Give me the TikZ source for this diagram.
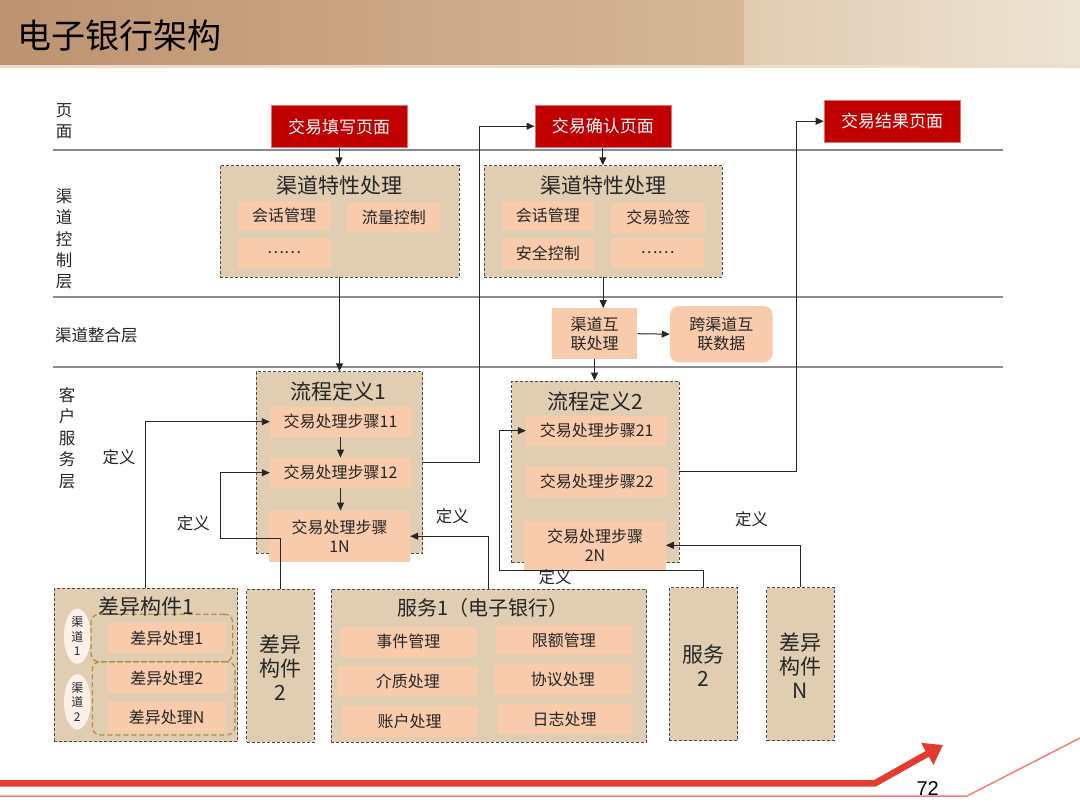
\documentclass[tikz,border=0pt]{standalone}
\usepackage{fontspec}
\setmainfont{Noto Sans CJK SC}
\newfontfamily\numfont{Liberation Sans}
\usetikzlibrary{arrows.meta,shapes.geometric}
\definecolor{pagered}{HTML}{C00000}
\definecolor{grptan}{HTML}{E0CDB2}
\definecolor{itemsal}{HTML}{F8CBAD}
\definecolor{linegray}{HTML}{8C8C8C}
\definecolor{dashgold}{HTML}{A8903C}
\definecolor{redthick}{HTML}{E53A30}
\definecolor{redthin}{HTML}{F2806E}
\definecolor{txt}{HTML}{262626}
\definecolor{chanfill}{HTML}{FBF1E8}
\definecolor{hdA}{RGB}{189,147,112}
\definecolor{hdB}{RGB}{214,184,153}
\definecolor{hdC}{RGB}{224,204,176}
\definecolor{hdD}{RGB}{238,228,213}
\definecolor{hdstrip}{RGB}{236,220,202}
\tikzset{
 grp/.style={fill=grptan, draw=black!70, densely dashed, line width=0.8pt, inner sep=0pt},
 itm/.style={fill=itemsal, inner sep=0pt, text=txt, font=\fontsize{16}{19}\selectfont, align=center},
 pg/.style={fill=pagered, draw=pagered!55!white, line width=0.6pt, text=white, inner sep=0pt, font=\fontsize{17}{20}\selectfont},
 ttl/.style={text=txt, inner sep=0pt, font=\fontsize{21}{24}\selectfont, align=center},
 lbl/.style={text=txt, inner sep=0pt, font=\fontsize{16.5}{20}\selectfont},
 side/.style={text=txt, inner sep=0pt, font=\fontsize{16.5}{21.4}\selectfont, align=center},
 conn/.style={draw=txt, line width=1pt, -{Triangle[length=8pt,width=7pt]}},
 chan/.style={ellipse, fill=chanfill, inner sep=0pt, text=txt, font=\fontsize{12}{14.5}\selectfont, align=center},
 grpdash/.style={draw=dashgold, dash pattern=on 5pt off 3pt, line width=1.2pt, rounded corners=8pt, inner sep=0pt},
 layer/.style={draw=linegray, line width=1.6pt},
}
\begin{document}
\begin{tikzpicture}[x=1pt,y=-1pt]
\useasboundingbox (0,0) rectangle (1080,809);
\fill[white] (0,0) rectangle (1080,809);
% header
\shade[left color=hdA, right color=hdB] (0,0) rectangle (744,65);
\shade[left color=hdC, right color=hdD] (744,0) rectangle (1080,65);
\fill[hdstrip] (0,65) rectangle (1080,68);
\node[anchor=west, inner sep=0pt, text=black, font=\fontsize{34}{38}\selectfont] (title) at (17,36) {电子银行架构};

% layer lines
\coordinate (l1a) at (53,150); \coordinate (l1b) at (1003,150);
\coordinate (l2a) at (53,297); \coordinate (l2b) at (1003,297);
\coordinate (l3a) at (53,367); \coordinate (l3b) at (1003,367);
\draw[layer] (l1a) -- (l1b);
\draw[layer] (l2a) -- (l2b);
\draw[layer] (l3a) -- (l3b);

% side labels
\node[side] (sl1) at (64,121) {页\\面};
\node[side] (sl2) at (64,239) {渠\\道\\控\\制\\层};
\node[side, anchor=west] (sl3) at (55,335) {渠道整合层};
\node[side] (sl4) at (67,438) {客\\户\\服\\务\\层};

% page boxes
\node[pg, minimum width=136, minimum height=42] (p1) at (339,126.7) {交易填写页面};
\node[pg, minimum width=136, minimum height=42] (p2) at (602.8,126.2) {交易确认页面};
\node[pg, minimum width=136, minimum height=42] (p3) at (892,121.2) {交易结果页面};

% channel control
\node[grp, minimum width=239, minimum height=111.3] (cq1) at (339.5,221.3) {};
\node[ttl] (cq1t) at (339,185) {渠道特性处理};
\node[itm, minimum width=93, minimum height=29] (a1) at (284,215.5) {会话管理};
\node[itm, minimum width=93, minimum height=29.6] (a2) at (393.8,217.5) {流量控制};
\node[itm, minimum width=93, minimum height=29.4] (a3) at (284,253) {……};

\node[grp, minimum width=238.4, minimum height=111.3] (cq2) at (603.2,221.3) {};
\node[ttl] (cq2t) at (603.4,185) {渠道特性处理};
\node[itm, minimum width=92.6, minimum height=29.3] (b1) at (547.9,215.7) {会话管理};
\node[itm, minimum width=93.8, minimum height=30] (b2) at (658.3,217.7) {交易验签};
\node[itm, minimum width=92.6, minimum height=30.7] (b3) at (547.9,253.7) {安全控制};
\node[itm, minimum width=93.8, minimum height=29.7] (b4) at (657.5,253) {……};

% integration
\node[itm, minimum width=85.6, minimum height=50.7] (hl) at (594.5,333.7) {渠道互\\联处理};
\node[itm, rounded corners=9pt, minimum width=102.7, minimum height=56.3] (kq) at (721.3,334.2) {跨渠道互\\联数据};

% process definition 1
\node[grp, minimum width=166.7, minimum height=181.6] (pd1) at (339.3,462.5) {};
\node[ttl] (pd1t) at (338.5,391) {流程定义1};
\node[itm, minimum width=141, minimum height=30] (s11) at (340.5,421.7) {交易处理步骤11};
\node[itm, minimum width=141, minimum height=30] (s12) at (340.5,472.7) {交易处理步骤12};
\node[itm, minimum width=141, minimum height=51] (s1N) at (339.5,536.2) {交易处理步骤\\1N};

% process definition 2
\node[grp, minimum width=167.3, minimum height=181.7] (pd2) at (595.3,471.8) {};
\node[ttl] (pd2t) at (595,401) {流程定义2};
\node[itm, minimum width=141.3, minimum height=30] (s21) at (596.7,430.7) {交易处理步骤21};
\node[itm, minimum width=141.3, minimum height=30] (s22) at (596.7,481.7) {交易处理步骤22};
\node[itm, minimum width=141.3, minimum height=49.3] (s2N) at (595,545.3) {交易处理步骤\\2N};

% bottom: diff component 1
\node[grp, minimum width=183.7, minimum height=153.3] (cy1) at (145.8,665) {};
\node[chan, minimum width=26.7, minimum height=51] (ch1) at (77.3,636.2) {渠\\道\\1};
\node[chan, minimum width=26.7, minimum height=55] (ch2) at (77.3,701.8) {渠\\道\\2};
\node[grpdash, minimum width=141.7, minimum height=47.4] (da) at (161.8,638) {};
\node[grpdash, minimum width=142.7, minimum height=73.3] (db) at (163.7,698.3) {};
\node[ttl] (cy1t) at (146,606.7) {差异构件1};
\node[itm, minimum width=116.7, minimum height=30] (d1) at (166.7,638.3) {差异处理1};
\node[itm, minimum width=120, minimum height=30.6] (d2) at (166.7,678) {差异处理2};
\node[itm, minimum width=116.7, minimum height=31.6] (dN) at (166.7,717.5) {差异处理N};

% diff component 2
\node[grp, minimum width=67.6, minimum height=153] (cy2) at (280.5,665.8) {};
\node[ttl] (cy2t) at (280.5,667.5) {差异\\构件\\2};

% service 1
\node[grp, minimum width=315.7, minimum height=153] (fw1) at (488.8,665.8) {};
\node[ttl, font=\fontsize{20}{24}\selectfont] (fw1t) at (483.3,608.3) {服务1（电子银行）};
\node[itm, minimum width=136.7, minimum height=30] (e1) at (408.3,641.7) {事件管理};
\node[itm, minimum width=135.7, minimum height=30] (e2) at (563.8,640) {限额管理};
\node[itm, minimum width=139, minimum height=30] (e3) at (407.8,681) {介质处理};
\node[itm, minimum width=137.7, minimum height=31] (e4) at (562.8,679.5) {协议处理};
\node[itm, minimum width=135.6, minimum height=30.7] (e5) at (409.5,721.3) {账户处理};
\node[itm, minimum width=134.4, minimum height=30] (e6) at (564.5,719) {日志处理};

% service 2
\node[grp, minimum width=68.4, minimum height=153] (fw2) at (703.5,664.2) {};
\node[ttl] (fw2t) at (703.5,666) {服务\\2};

% diff component N
\node[grp, minimum width=67.6, minimum height=153] (cyN) at (800.5,664.2) {};
\node[ttl] (cyNt) at (800.5,665.5) {差异\\构件\\N};

% connectors
\draw[conn] (p1.south) -- (p1.south |- cq1.north);
\draw[conn] (p2.south) -- (p2.south |- cq2.north);
\draw[conn] (cq1.south) -- (cq1.south |- pd1.north);
\draw[conn] (cq2.south) -- (cq2.south |- hl.north);
\draw[conn] (hl.east) -- (kq.west);
\draw[conn] (hl.south) -- (hl.south |- pd2.north);
\draw[conn] (s11.south) -- (s12.north);
\draw[conn] (s12.south) -- (s12.south |- s1N.north);
\draw[conn] (pd1.east) -- (479,462.5) |- (p2.west);
\draw[conn] (pd2.east) -- (796.5,471.8) |- (p3.west);
\draw[conn] (cy1.north) |- (s11.west);
\draw[conn] (cy2.north) |- (220,538.3) |- (s12.west);
\draw[conn] (fw1.north) |- (s1N.east);
\draw[conn] (fw2.north) |- (499,570.7) |- (s21.west);
\draw[conn] (cyN.north) |- (s2N.east);

% define labels
\node[lbl] (df1) at (119,456.7) {定义};
\node[lbl] (df2) at (193.3,523.3) {定义};
\node[lbl] (df3) at (452.3,515.7) {定义};
\node[lbl] (df4) at (555,577.3) {定义};
\node[lbl] (df5) at (751.7,519.3) {定义};

% footer
\coordinate (f1) at (0,796); \coordinate (f2) at (967,796); \coordinate (f3) at (1080,738);
\draw[redthin, line width=1.5pt] (f1) -- (f2) -- (f3);
\coordinate (g1) at (0,783.3); \coordinate (g2) at (875,783.3); \coordinate (g3) at (943,745);
\draw[redthick, line width=6.5pt, -{Triangle[length=18pt,width=24pt]}] (g1) -- (g2) -- (g3);
\node[inner sep=0pt, text=black, font=\numfont\fontsize{20}{24}\selectfont] (pn) at (927.7,788.3) {72};
\end{tikzpicture}
\end{document}
